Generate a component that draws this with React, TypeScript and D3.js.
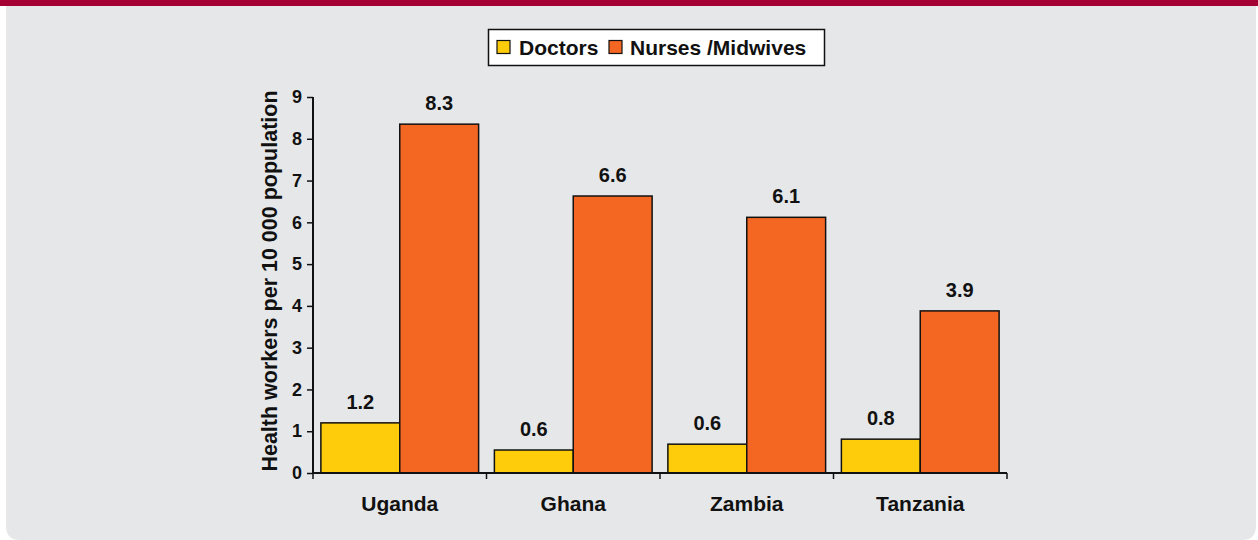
import * as d3 from 'd3';
import { useEffect, useRef } from 'react';

const countries = ['Uganda', 'Ghana', 'Zambia', 'Tanzania'];
const seriesNames = ['Doctors', 'Nurses /Midwives'];
const doctors = [1.2, 0.55, 0.69, 0.81];
const nurses = [8.35, 6.63, 6.12, 3.88];
const doctorLabels = ['1.2', '0.6', '0.6', '0.8'];
const nurseLabels = ['8.3', '6.6', '6.1', '3.9'];
const yTicks = [0, 1, 2, 3, 4, 5, 6, 7, 8, 9];

const W = 1258;
const H = 540;
const colors = ['#FECC0A', '#F46723'];
const font = '"Liberation Sans", Arial, sans-serif';

export default function App() {
  const svgRef = useRef<SVGSVGElement>(null);

  useEffect(() => {
    if (!svgRef.current) return;
    const svg = d3.select(svgRef.current);
    svg.selectAll('*').remove();

    // background panel
    svg.append('rect').attr('width', W).attr('height', H).attr('fill', '#ffffff');
    svg
      .append('path')
      .attr('d', `M6,0 H1256 V${H - 14} Q1256,${H} 1242,${H} H20 Q6,${H} 6,${H - 14} Z`)
      .attr('fill', '#E6E7E9');
    svg.append('rect').attr('width', W).attr('height', 6).attr('fill', '#A50034');

    const x = d3.scaleBand().domain(countries).range([313, 1007]).paddingInner(0).paddingOuter(0);
    const inner = d3
      .scaleBand()
      .domain(seriesNames)
      .range([0, x.bandwidth()])
      .paddingInner(0)
      .paddingOuter(0.1);
    const y = d3.scaleLinear().domain([0, 9]).range([473, 97]);

    const rows = countries.map((c, i) => ({
      country: c,
      vals: [
        { s: seriesNames[0], v: doctors[i], label: doctorLabels[i] },
        { s: seriesNames[1], v: nurses[i], label: nurseLabels[i] },
      ],
    }));

    const groups = svg
      .selectAll('g.grp')
      .data(rows)
      .enter()
      .append('g')
      .attr('class', 'grp')
      .attr('transform', (d) => `translate(${x(d.country)},0)`);

    groups
      .selectAll('rect')
      .data((d) => d.vals)
      .enter()
      .append('rect')
      .attr('x', (d) => inner(d.s) || 0)
      .attr('y', (d) => y(d.v))
      .attr('width', inner.bandwidth())
      .attr('height', (d) => y(0) - y(d.v))
      .attr('fill', (d, i) => colors[i])
      .attr('stroke', '#111')
      .attr('stroke-width', 1.5);

    groups
      .selectAll('text')
      .data((d) => d.vals)
      .enter()
      .append('text')
      .attr('x', (d) => (inner(d.s) || 0) + inner.bandwidth() / 2)
      .attr('y', (d) => y(d.v) - 14)
      .attr('text-anchor', 'middle')
      .style('font-family', font)
      .style('font-weight', 'bold')
      .style('font-size', '20px')
      .attr('fill', '#111')
      .text((d) => d.label);

    // y axis
    const yAxis = svg
      .append('g')
      .attr('transform', 'translate(313,0)')
      .call(
        d3
          .axisLeft(y)
          .tickValues(yTicks)
          .tickSize(6)
          .tickPadding(5)
          .tickFormat(d3.format('d')),
      );
    yAxis.select('.domain').attr('stroke', '#111').attr('stroke-width', 2).attr('d', 'M0,97V473');
    yAxis.selectAll('.tick line').attr('stroke', '#111').attr('stroke-width', 1.5);
    yAxis
      .selectAll('.tick text')
      .attr('fill', '#111')
      .style('font-family', font)
      .style('font-weight', 'bold')
      .style('font-size', '18px');

    // x axis
    const xAxis = svg
      .append('g')
      .attr('transform', `translate(0,${y(0)})`)
      .call(d3.axisBottom(x).tickSize(0).tickPadding(23));
    xAxis.select('.domain').attr('stroke', '#111').attr('stroke-width', 2).attr('d', 'M313,0H1007');
    xAxis
      .selectAll('.tick text')
      .attr('fill', '#111')
      .style('font-family', font)
      .style('font-weight', 'bold')
      .style('font-size', '21px');
    const bounds = [...countries.map((c) => x(c) || 0), x.range()[1]];
    xAxis
      .selectAll('line.bound')
      .data(bounds)
      .enter()
      .append('line')
      .attr('class', 'bound')
      .attr('x1', (d) => d)
      .attr('x2', (d) => d)
      .attr('y1', 0)
      .attr('y2', 6)
      .attr('stroke', '#111')
      .attr('stroke-width', 1.5);

    // y axis title
    svg
      .append('text')
      .attr('transform', `translate(277,${(97 + 473) / 2 - 4}) rotate(-90)`)
      .attr('text-anchor', 'middle')
      .style('font-family', font)
      .style('font-weight', 'bold')
      .style('font-size', '21.5px')
      .attr('fill', '#111')
      .text('Health workers per 10 000 population');

    // legend
    const lg = svg.append('g');
    lg.append('rect')
      .attr('x', 488.5)
      .attr('y', 29.5)
      .attr('width', 336)
      .attr('height', 36)
      .attr('fill', '#ffffff')
      .attr('stroke', '#111')
      .attr('stroke-width', 1.5);
    const items = [
      { name: 'Doctors', sx: 497, tx: 519 },
      { name: 'Nurses /Midwives', sx: 609, tx: 630 },
    ];
    items.forEach((it, i) => {
      lg.append('rect')
        .attr('x', it.sx)
        .attr('y', 40.5)
        .attr('width', 13)
        .attr('height', 13)
        .attr('fill', colors[i])
        .attr('stroke', '#111')
        .attr('stroke-width', 1.2);
      lg.append('text')
        .attr('x', it.tx)
        .attr('y', 55)
        .style('font-family', font)
        .style('font-weight', 'bold')
        .style('font-size', '21px')
        .attr('fill', '#111')
        .text(seriesNames[i]);
    });
  }, []);

  return (
    <svg
      ref={svgRef}
      width={W}
      height={H}
      style={{ position: 'absolute', left: 0, top: 0, display: 'block' }}
    ></svg>
  );
}
